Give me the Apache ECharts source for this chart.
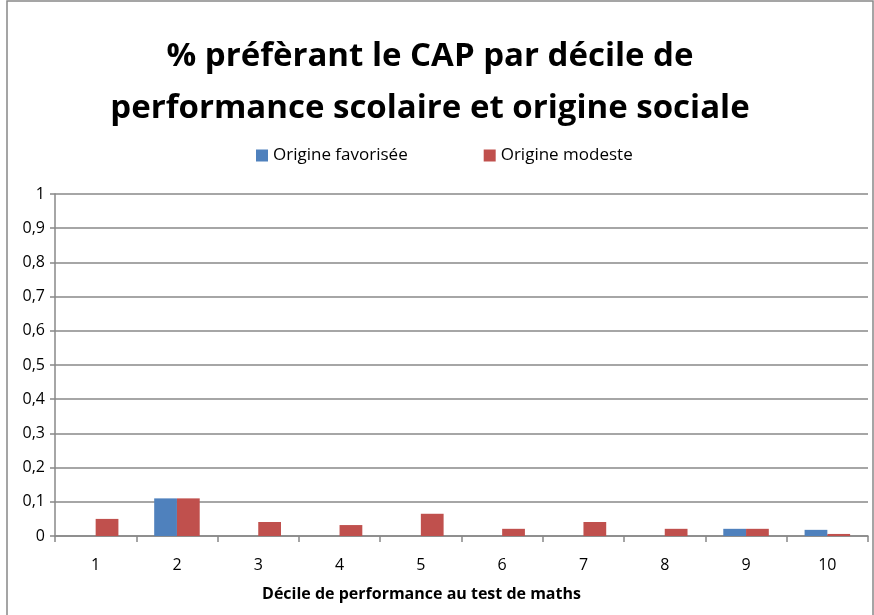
<!DOCTYPE html>
<html>
<head>
<meta charset="utf-8" />
<title>% préfèrant le CAP</title>
<script src="https://cdn.jsdelivr.net/npm/echarts@6/dist/echarts.min.js"></script>
<style>
  html, body { margin: 0; padding: 0; background: #fff; }
  #main { width: 874px; height: 615px; }
</style>
</head>
<body>
<div id="main"></div>
<script>
var deciles = ['1', '2', '3', '4', '5', '6', '7', '8', '9', '10'];
var favorisee = [0, 0.11, 0, 0, 0, 0, 0, 0, 0.021, 0.018];
var modeste = [0.05, 0.11, 0.041, 0.032, 0.065, 0.021, 0.041, 0.021, 0.021, 0.006];

var myChart = echarts.init(document.getElementById('main'));

var font = 'Open Sans, Noto Sans, sans-serif';

var option = {
  animation: false,
  backgroundColor: '#fff',
  title: {
    text: '% préfèrant le CAP par décile de\nperformance scolaire et origine sociale',
    left: 425,
    textAlign: 'center',
    top: 26,
    textStyle: {
      fontFamily: font,
      fontSize: 33,
      fontWeight: 'bold',
      color: '#000',
      lineHeight: 52
    }
  },
  legend: {
    top: 142,
    left: 251,
    itemWidth: 12,
    itemHeight: 12,
    itemGap: 76,
    icon: 'rect',
    textStyle: { fontFamily: font, fontSize: 17, color: '#000' },
    data: ['Origine favorisée', 'Origine modeste']
  },
  graphic: [{
    type: 'rect',
    shape: { x: 7, y: 1, width: 866, height: 620 },
    style: { fill: 'none', stroke: '#888', lineWidth: 1.5 },
    silent: true
  }],
  grid: { left: 55, right: 6, top: 194, bottom: 79 },
  xAxis: {
    type: 'category',
    data: deciles,
    axisLine: { lineStyle: { color: '#888', width: 1.5 } },
    axisTick: { show: true, length: 6, lineStyle: { color: '#888', width: 1.5 } },
    axisLabel: { fontFamily: font, fontSize: 16, color: '#000', margin: 21 },
    name: 'Décile de performance au test de maths',
    nameLocation: 'middle',
    nameGap: 50,
    nameTextStyle: {
      fontFamily: font, fontSize: 16, fontWeight: 'bold', color: '#000',
      padding: [0, 80, 0, 0]
    }
  },
  yAxis: {
    type: 'value',
    min: 0,
    max: 1,
    interval: 0.1,
    axisLine: { show: true, lineStyle: { color: '#888', width: 1.5 } },
    axisTick: { show: true, length: 5, lineStyle: { color: '#888', width: 1.5 } },
    splitLine: { lineStyle: { color: '#888', width: 1.5 } },
    axisLabel: {
      fontFamily: font, fontSize: 16, color: '#000', margin: 10,
      formatter: function (v) { return String(Math.round(v * 10) / 10).replace('.', ','); }
    }
  },
  series: [
    {
      name: 'Origine favorisée',
      type: 'bar',
      data: favorisee,
      barGap: 0,
      barCategoryGap: '44%',
      itemStyle: { color: '#4F81BD' }
    },
    {
      name: 'Origine modeste',
      type: 'bar',
      data: modeste,
      itemStyle: { color: '#C0504D' }
    }
  ]
};

myChart.setOption(option);
</script>
</body>
</html>
